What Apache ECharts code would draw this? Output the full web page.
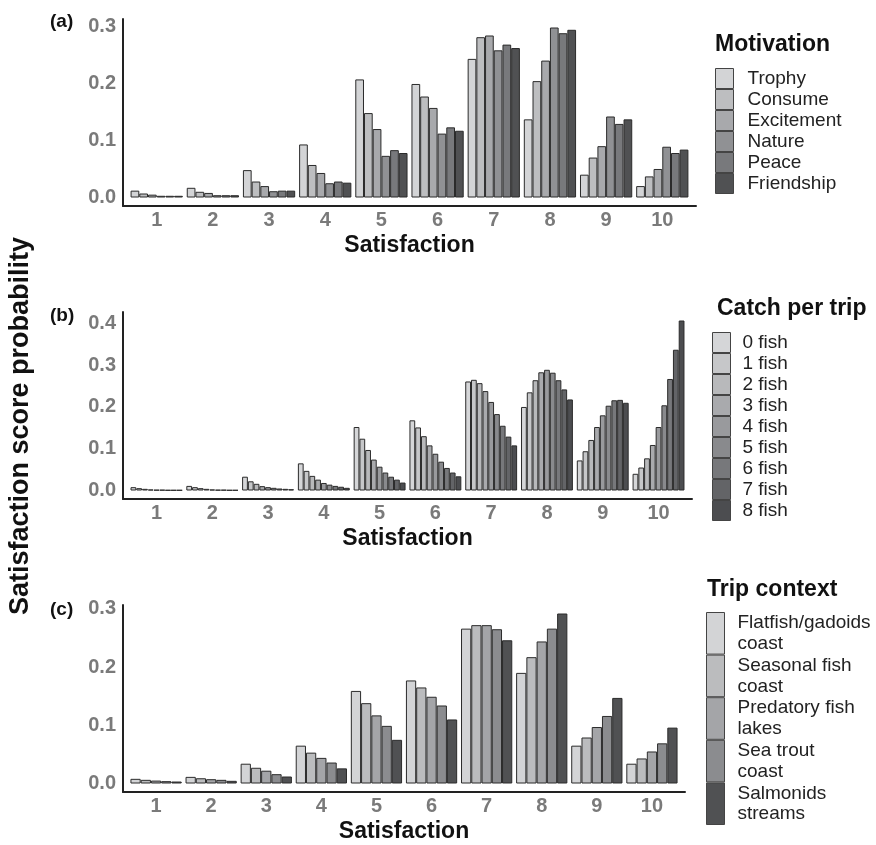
<!DOCTYPE html>
<html>
<head>
<meta charset="utf-8">
<script src="https://cdn.jsdelivr.net/npm/echarts@6/dist/echarts.min.js"></script>
<style>
  html, body { margin: 0; padding: 0; background: #fff; }
  #chart-panel { width: 876px; height: 845px; }
</style>
</head>
<body>
<div id="chart-panel"></div>
<script>
// 数据：满意度 1-10
var satisfaction = [1, 2, 3, 4, 5, 6, 7, 8, 9, 10];

// (a) Motivation
var motivationNames = ['Trophy', 'Consume', 'Excitement', 'Nature', 'Peace', 'Friendship'];
var trophy     = [0.012, 0.017, 0.048, 0.093, 0.207, 0.199, 0.243, 0.137, 0.040, 0.020];
var consume    = [0.007, 0.010, 0.028, 0.057, 0.148, 0.177, 0.281, 0.204, 0.070, 0.037];
var excitement = [0.005, 0.008, 0.020, 0.043, 0.120, 0.157, 0.284, 0.240, 0.090, 0.050];
var nature     = [0.003, 0.004, 0.011, 0.025, 0.073, 0.112, 0.258, 0.298, 0.142, 0.089];
var peace      = [0.003, 0.004, 0.012, 0.028, 0.083, 0.123, 0.268, 0.288, 0.129, 0.078];
var friendship = [0.003, 0.004, 0.012, 0.026, 0.078, 0.117, 0.262, 0.294, 0.137, 0.084];

// (b) Catch per trip
var catchNames = ['0 fish', '1 fish', '2 fish', '3 fish', '4 fish', '5 fish', '6 fish', '7 fish', '8 fish'];
var fish0 = [0.008, 0.011, 0.033, 0.065, 0.152, 0.168, 0.261, 0.200, 0.072, 0.040];
var fish1 = [0.0056, 0.008, 0.022, 0.047, 0.124, 0.151, 0.265, 0.235, 0.094, 0.055];
var fish2 = [0.004, 0.0056, 0.016, 0.035, 0.097, 0.130, 0.257, 0.264, 0.121, 0.077];
var fish3 = [0.0024, 0.004, 0.0104, 0.026, 0.074, 0.108, 0.238, 0.283, 0.152, 0.109];
var fish4 = [0.0016, 0.0024, 0.008, 0.018, 0.057, 0.088, 0.212, 0.289, 0.180, 0.152];
var fish5 = [0.0016, 0.0016, 0.0064, 0.014, 0.043, 0.069, 0.183, 0.282, 0.203, 0.204];
var fish6 = [0.001, 0.0016, 0.0048, 0.011, 0.033, 0.054, 0.155, 0.264, 0.216, 0.267];
var fish7 = [0.001, 0.001, 0.004, 0.009, 0.026, 0.043, 0.129, 0.242, 0.217, 0.337];
var fish8 = [0.001, 0.001, 0.003, 0.0064, 0.019, 0.034, 0.108, 0.218, 0.210, 0.407];

// (c) Trip context
var contextNames = ['Flatfish/gadoids\ncoast', 'Seasonal fish\ncoast', 'Predatory fish\nlakes', 'Sea trout\ncoast', 'Salmonids\nstreams'];
var flatfish  = [0.008, 0.0114, 0.034, 0.065, 0.159, 0.177, 0.266, 0.190, 0.065, 0.034];
var seasonal  = [0.0063, 0.009, 0.027, 0.053, 0.138, 0.165, 0.272, 0.217, 0.079, 0.043];
var predatory = [0.005, 0.0074, 0.022, 0.044, 0.117, 0.149, 0.272, 0.244, 0.097, 0.055];
var seaTrout  = [0.004, 0.0063, 0.016, 0.036, 0.099, 0.134, 0.265, 0.266, 0.116, 0.069];
var salmonids = [0.0034, 0.0046, 0.012, 0.026, 0.075, 0.110, 0.246, 0.292, 0.147, 0.096];

// y 轴刻度
var ticksA = [0, 0.1, 0.2, 0.3];
var ticksB = [0, 0.1, 0.2, 0.3, 0.4];
var ticksC = [0, 0.1, 0.2, 0.3];

// 灰度配色
var greysA = ['#d3d4d6', '#bdbec0', '#a8a9ac', '#909194', '#78797c', '#505153'];
var greysB = ['#d5d6d8', '#c6c7c9', '#b8b9bb', '#a9aaad', '#999a9d', '#898a8d', '#77787b', '#636467', '#4c4d50'];
var greysC = ['#d3d4d6', '#bbbcbe', '#a4a5a8', '#8b8c8f', '#505153'];

var FONT = '"Liberation Sans", Arial, sans-serif';
var tickGrey = '#7a7a7a';

var panels = [
    { names: motivationNames, values: [trophy, consume, excitement, nature, peace, friendship], colors: greysA, ticks: ticksA,
      grid: { left: 123, top: 19, width: 573, height: 187 } },
    { names: catchNames, values: [fish0, fish1, fish2, fish3, fish4, fish5, fish6, fish7, fish8], colors: greysB, ticks: ticksB,
      grid: { left: 123, top: 312, width: 569, height: 187 } },
    { names: contextNames, values: [flatfish, seasonal, predatory, seaTrout, salmonids], colors: greysC, ticks: ticksC,
      grid: { left: 123, top: 605, width: 562, height: 187 } }
];

var grids = [], xAxes = [], yAxes = [], series = [];

panels.forEach(function (p, gi) {
    var maxVal = 0;
    p.values.forEach(function (arr) { arr.forEach(function (v) { if (v > maxVal) maxVal = v; }); });

    grids.push(p.grid);

    xAxes.push({
        type: 'value',
        gridIndex: gi,
        min: 0.4,
        max: 10.6,
        name: 'Satisfaction',
        nameLocation: 'middle',
        nameGap: 28,
        nameTextStyle: { fontSize: 23, fontWeight: 'bold', color: '#111', fontFamily: FONT },
        axisLine: { onZero: false, lineStyle: { color: '#222', width: 2 } },
        axisTick: { show: false },
        splitLine: { show: false },
        axisLabel: {
            customValues: satisfaction,
            color: tickGrey,
            fontSize: 20,
            fontWeight: 'bold',
            fontFamily: FONT,
            margin: 4
        }
    });

    yAxes.push({
        type: 'value',
        gridIndex: gi,
        min: -maxVal * 0.05,
        max: maxVal * 1.05,
        axisLine: { show: true, onZero: false, lineStyle: { color: '#222', width: 2 } },
        axisTick: { show: false },
        splitLine: { show: false },
        axisLabel: {
            customValues: p.ticks,
            formatter: function (v) { return v.toFixed(1); },
            color: tickGrey,
            fontSize: 20,
            fontWeight: 'bold',
            fontFamily: FONT,
            margin: 7
        }
    });

    p.names.forEach(function (name, si) {
        series.push({
            type: 'bar',
            name: name,
            xAxisIndex: gi,
            yAxisIndex: gi,
            barGap: '0%',
            barCategoryGap: '7%',
            itemStyle: { color: p.colors[si], borderColor: '#2b2b2b', borderWidth: 1 },
            emphasis: { disabled: true },
            data: satisfaction.map(function (s, k) { return [s, p.values[si][k]]; })
        });
    });
});

function legendOf(names, left, top, itemHeight, gapLeft, lineHeight) {
    return {
        data: names,
        orient: 'vertical',
        left: left,
        top: top,
        padding: 0,
        icon: 'rect',
        itemWidth: 18,
        itemHeight: itemHeight,
        itemGap: 0,
        selectedMode: false,
        itemStyle: { borderWidth: 1, borderColor: '#444' },
        textStyle: {
            fontSize: 19,
            color: '#222',
            fontFamily: FONT,
            lineHeight: lineHeight,
            padding: [0, 0, 0, gapLeft]
        }
    };
}

function titleOf(text, left, top, size) {
    return {
        text: text,
        left: left,
        top: top,
        padding: 0,
        textStyle: { fontSize: size, fontWeight: 'bold', color: '#111', fontFamily: FONT }
    };
}

var chartOption = {
    backgroundColor: '#fff',
    animation: false,
    title: [
        titleOf('(a)', 50, 12, 19),
        titleOf('(b)', 50, 306, 19),
        titleOf('(c)', 50, 600, 19),
        titleOf('Motivation', 715, 33, 23),
        titleOf('Catch per trip', 717, 297, 23),
        titleOf('Trip context', 707, 578, 23)
    ],
    legend: [
        legendOf(motivationNames, 715, 68, 20, 9, 20),
        legendOf(catchNames, 712, 332, 20, 7, 20),
        legendOf(contextNames, 706, 612, 41.6, 8, 20.8)
    ],
    grid: grids,
    xAxis: xAxes,
    yAxis: yAxes,
    series: series,
    graphic: [{
        type: 'text',
        x: 21,
        y: 426,
        rotation: Math.PI / 2,
        style: {
            text: 'Satisfaction score probability',
            fontSize: 27,
            fontWeight: 'bold',
            fontFamily: FONT,
            fill: '#111',
            align: 'center',
            verticalAlign: 'middle'
        }
    }]
};

var myChart = echarts.init(document.getElementById('chart-panel'));
myChart.setOption(chartOption);
</script>
</body>
</html>
